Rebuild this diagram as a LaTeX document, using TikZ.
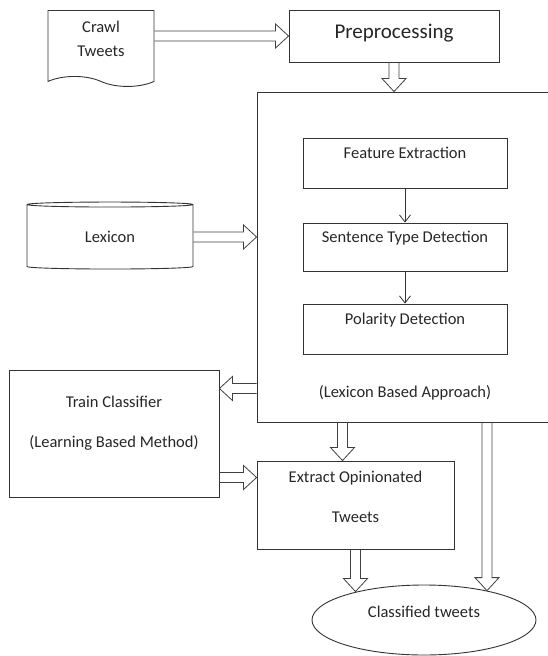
\documentclass[tikz,border=0pt]{standalone}
\usepackage{fontspec}
\setmainfont{Carlito}
\usetikzlibrary{arrows.meta,calc,shapes.geometric,shapes.symbols}

\begin{document}
\begin{tikzpicture}[x=1pt, y=-1pt, >={Straight Barb[length=7pt,width=11pt]},
    font=\fontsize{16.5pt}{20pt}\selectfont,
    box/.style={draw=black!80, line width=0.9pt, inner sep=0pt, align=center, text=black!85},
    stage/.style={box, minimum width=204pt, text height=12pt, text depth=22pt},
    hollow/.style={draw=black!75, line width=0.8pt, to path={
      ($(\tikztostart)!5pt!90:(\tikztotarget)$)
      -- ($(\tikztotarget)!13pt!(\tikztostart)!5pt!90:(\tikztotarget)$)
      -- ($(\tikztotarget)!13pt!(\tikztostart)!12pt!90:(\tikztotarget)$)
      -- (\tikztotarget)
      -- ($(\tikztotarget)!13pt!(\tikztostart)!12pt!-90:(\tikztotarget)$)
      -- ($(\tikztotarget)!13pt!(\tikztostart)!5pt!-90:(\tikztotarget)$)
      -- ($(\tikztostart)!5pt!-90:(\tikztotarget)$)}}]
  \useasboundingbox (0,0) rectangle (548,656);
  \clip (0,0) rectangle (548,656);

  % sources
  \node[box, tape, tape bend top=none, tape bend bottom=out and in, tape bend height=10pt,
        minimum width=106pt, minimum height=76pt, anchor=north, text height=30pt, text depth=4pt]
        (crawl) at (101,10) {Crawl\\[4pt]Tweets};
  \node[box, minimum width=210pt, minimum height=52pt, text height=15pt, text depth=11pt,
        font=\fontsize{21pt}{24pt}\selectfont] (pre) at (394,36) {Preprocessing};
  \node[box, cylinder, shape border rotate=90, aspect=0.1,
        minimum width=166pt, minimum height=67pt] (lex) at (110,237) {Lexicon};

  % lexicon based part
  \node[box, minimum width=295pt, minimum height=330pt] (big) at (404.5,257) {};
  \node[stage, minimum height=50pt] (feat) at (405,163) {Feature Extraction};
  \node[stage, minimum height=48pt] (sent) at (405,247) {Sentence Type Detection};
  \node[stage, minimum height=50pt] (pol) at (405,329) {Polarity Detection};
  \node[text=black!85] (lba) at (405,393) {(Lexicon Based Approach)};

  % learning part and output
  \node[box, minimum width=210pt, minimum height=127pt, text height=31pt, text depth=4pt]
        (train) at (114,433.5) {Train Classifier\\[20pt](Learning Based Method)};
  \node[box, minimum width=197pt, minimum height=88pt, text height=38pt, text depth=4pt]
        (ext) at (355.5,505) {Extract Opinionated\\[20pt]Tweets};
  \node[box, ellipse, minimum width=224pt, minimum height=70pt, text height=12pt, text depth=18pt]
        (cls) at (424,620) {Classified tweets};

  % block arrows
  \coordinate (p0) at (pre.west -| crawl.east);
  \draw[hollow] (p0) to (pre.west);
  \coordinate (b0) at (pre.south |- big.north);
  \draw[hollow] (pre.south) to (b0);
  \coordinate (l0) at (lex.east -| big.west);
  \draw[hollow] (lex.east) to (l0);
  \coordinate (t0) at ([yshift=45pt]train.east);
  \coordinate (t1) at (t0 -| big.west);
  \draw[hollow] (t1) to (t0);
  \coordinate (t2) at ([yshift=-44pt]train.east);
  \coordinate (t3) at (t2 -| ext.west);
  \draw[hollow] (t2) to (t3);
  \coordinate (e0) at ([xshift=-13pt]ext.north);
  \coordinate (e1) at (e0 |- big.south);
  \draw[hollow] (e1) to (e0);
  \coordinate (c0) at (ext.south |- cls.157);
  \draw[hollow] (ext.south) to (c0);
  \coordinate (c1) at (cls.25 |- big.south);
  \draw[hollow] (c1) to (cls.25);

  % inner steps
  \draw[->, draw=black!80, line width=0.8pt] (feat) -- (sent);
  \draw[->, draw=black!80, line width=0.8pt] (sent) -- (pol);
\end{tikzpicture}
\end{document}
